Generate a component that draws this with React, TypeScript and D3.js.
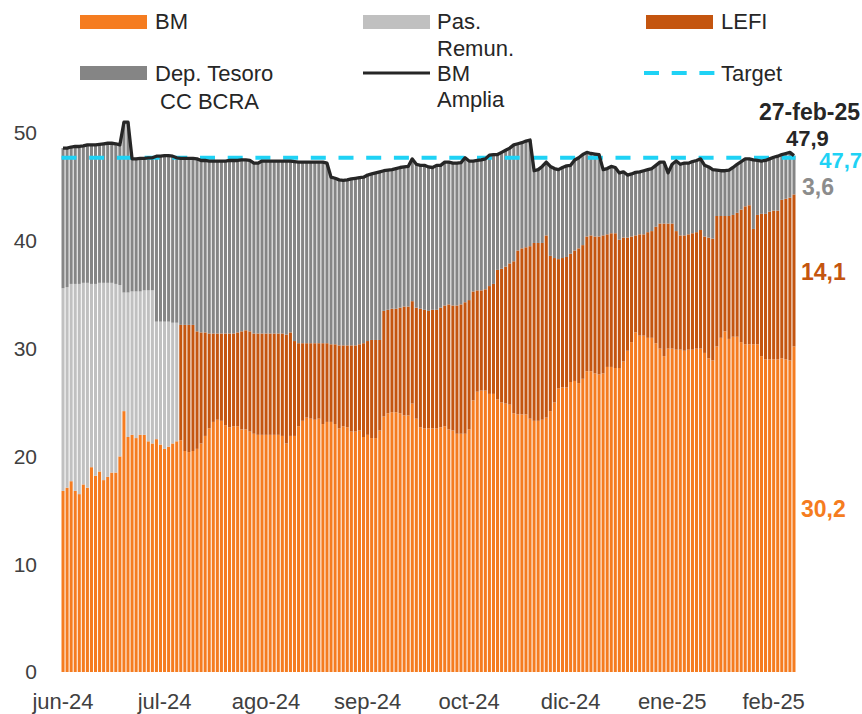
import React from 'react';
import * as d3 from 'd3';

// ---- DATA ----
const tickLabels = ["jun-24", "jul-24", "ago-24", "sep-24", "oct-24", "dic-24", "ene-25", "feb-25"];
const tickEvery = 25;
const lastDate = "27-feb-25";
const target = 47.7;

// Base Monetaria (bars 0..180)
const bm = [
  16.8, 17.1, 17.7, 16.8, 16.5, 17.4, 17.1, 19.0, 18.2, 18.6,
  17.8, 18.1, 18.5, 18.5, 20.0, 24.2, 21.8, 22.0, 21.7, 22.0,
  22.0, 21.4, 21.2, 21.6, 21.1, 20.7, 20.9, 21.2, 21.4, 21.5,
  20.5, 20.4, 20.5, 20.7, 21.2, 21.9, 22.6, 23.2, 23.4, 23.3,
  22.9, 22.7, 22.8, 22.8, 22.5, 22.5, 22.3, 22.1, 22.0, 22.0,
  22.0, 22.0, 22.0, 22.0, 21.9, 21.2, 21.9, 21.9, 22.8, 23.3,
  23.6, 23.5, 23.4, 23.5, 23.0, 23.2, 23.2, 23.0, 22.6, 22.8,
  22.7, 22.3, 22.3, 22.4, 21.8, 22.0, 21.7, 21.7, 22.4, 23.7,
  24.0, 24.1, 24.1, 24.0, 23.8, 23.8, 24.9, 23.5, 22.7, 22.6,
  22.6, 22.6, 22.6, 22.7, 22.8, 22.5, 22.4, 22.1, 22.1, 22.1,
  22.5, 25.2, 26.0, 26.1, 26.1, 25.8, 25.8, 25.3, 25.0, 24.9,
  24.8, 24.0, 23.9, 23.9, 23.9, 23.5, 23.3, 23.3, 23.4, 23.6,
  24.2, 25.0, 26.3, 26.4, 26.4, 26.9, 27.0, 26.8, 27.2, 27.9,
  27.9, 27.7, 27.6, 27.7, 28.3, 28.3, 28.2, 28.2, 28.8, 29.8,
  30.6, 31.5, 31.2, 31.2, 31.0, 31.0, 30.5, 30.0, 29.3, 30.0,
  30.0, 29.9, 29.9, 29.8, 29.9, 29.9, 30.0, 30.0, 29.6, 29.1,
  28.9, 30.2, 31.0, 31.6, 30.9, 31.1, 31.1, 30.6, 30.4, 30.4,
  30.4, 30.4, 29.3, 29.0, 29.0, 29.0, 29.0, 29.1, 29.0, 28.9,
  30.2,
];

// Pasivos remunerados (bars 0..28)
const pasRemun = [
  18.8, 18.6, 18.3, 19.2, 19.5, 18.7, 19.0, 17.0, 17.8, 17.5,
  18.3, 18.0, 17.6, 17.5, 15.9, 11.0, 13.4, 13.3, 13.6, 13.3,
  13.4, 14.0, 14.2, 10.9, 11.4, 11.8, 11.6, 11.2, 11.0,
];

// LEFI (bars 29..180)
const lefiStart = 29;
const lefi = [
  10.7,
  11.7, 11.8, 11.7, 10.9, 10.3, 9.6, 8.8, 8.2, 8.0, 8.1,
  8.5, 8.7, 8.6, 8.7, 9.1, 9.2, 9.3, 9.3, 9.4, 9.4,
  9.4, 9.4, 9.4, 9.4, 9.5, 10.1, 9.6, 8.8, 7.7, 7.2,
  6.9, 7.0, 7.1, 7.0, 7.5, 7.3, 7.2, 7.4, 7.7, 7.5,
  7.6, 8.0, 8.0, 8.0, 8.7, 8.7, 9.1, 9.1, 8.4, 9.8,
  9.6, 9.6, 9.6, 9.8, 10.1, 10.1, 9.5, 10.3, 11.0, 11.0,
  10.9, 11.0, 11.0, 11.1, 11.2, 11.6, 11.6, 11.9, 12.0, 12.2,
  12.0, 10.1, 9.4, 9.3, 9.4, 10.0, 10.2, 12.0, 12.4, 12.7,
  13.1, 14.1, 15.2, 15.4, 15.5, 16.0, 16.5, 16.5, 16.4, 16.9,
  14.4, 13.4, 12.0, 12.0, 12.1, 11.9, 12.1, 12.5, 12.4, 12.5,
  12.6, 12.7, 12.8, 12.8, 12.3, 12.4, 12.5, 11.9, 11.5, 10.5,
  9.8, 9.0, 9.4, 9.4, 9.8, 9.9, 10.8, 11.6, 12.3, 11.6,
  11.6, 11.0, 10.6, 10.7, 10.7, 10.8, 10.8, 11.0, 10.8, 11.2,
  11.3, 12.1, 11.3, 10.7, 11.4, 11.3, 11.5, 12.3, 12.8, 12.9,
  10.7, 12.0, 13.2, 13.5, 13.7, 13.8, 13.8, 14.7, 14.9, 15.1,
  14.1,
];

// BM Amplia (total, bars 0..180)
const bmAmplia = [
  48.6, 48.6, 48.7, 48.75, 48.75, 48.8, 48.9, 48.9, 48.9, 48.95,
  49.0, 49.05, 49.05, 49.0, 48.9, 51.0, 51.0, 47.6, 47.6, 47.65,
  47.65, 47.7, 47.7, 47.85, 47.85, 47.9, 47.9, 47.85, 47.7, 47.65,
  47.65, 47.65, 47.65, 47.6, 47.45, 47.45, 47.4, 47.4, 47.4, 47.4,
  47.4, 47.45, 47.45, 47.45, 47.5, 47.5, 47.45, 47.2, 47.2, 47.4,
  47.4, 47.4, 47.4, 47.4, 47.4, 47.4, 47.4, 47.35, 47.3, 47.3,
  47.3, 47.3, 47.3, 47.3, 47.3, 47.2, 45.9, 45.8, 45.65, 45.6,
  45.65, 45.75, 45.8, 45.85, 45.9, 46.1, 46.2, 46.3, 46.4, 46.5,
  46.55, 46.6, 46.7, 46.8, 46.85, 46.9, 47.6, 47.1, 47.0, 47.0,
  46.85, 46.8, 47.0, 47.0, 47.3, 47.3, 47.2, 47.2, 47.25, 47.7,
  47.4, 47.4, 47.45, 47.5, 47.6, 47.95, 48.0, 48.0, 48.2, 48.4,
  48.6, 48.9, 49.0, 49.1, 49.25, 49.35, 46.5, 46.6, 46.9, 47.3,
  46.9, 46.7, 46.6, 46.8, 46.95, 47.0, 47.5, 47.7, 48.0, 48.2,
  48.1, 48.05, 48.0, 46.6, 46.7, 46.9, 46.8, 46.3, 46.4, 46.1,
  46.2, 46.35, 46.4, 46.5, 46.6, 46.7, 47.0, 47.3, 47.3, 46.3,
  47.1, 47.4, 47.1, 47.2, 47.2, 47.35, 47.45, 47.6, 47.0, 46.85,
  46.6, 46.55, 46.5, 46.5, 46.55, 46.8, 47.1, 47.35, 47.6, 47.6,
  47.5, 47.45, 47.4, 47.45, 47.6, 47.75, 47.85, 48.0, 48.1, 48.2,
  47.9,
];

const yTicks = [0, 10, 20, 30, 40, 50];

// ---- STYLE ----
const C_BM = '#F57C20';
const C_PAS = '#C0C0C0';
const C_LEFI = '#C4550F';
const C_TES = '#858585';
const C_LINE = '#262626';
const C_TARGET = '#1FD2F5';
const FONT = '"Liberation Sans", Arial, sans-serif';

export default function App() {
  const n = bm.length;
  const idx = d3.range(n);
  const rows = idx.map((i) => {
    const p = i < pasRemun.length ? pasRemun[i] : 0;
    const l = i >= lefiStart ? lefi[i - lefiStart] : 0;
    const t = Math.max(0, bmAmplia[i] - bm[i] - p - l);
    return { i, bm: bm[i], pas: p, lefi: l, tesoro: t };
  });
  const keys = ['bm', 'pas', 'lefi', 'tesoro'];
  const colors: Record<string, string> = { bm: C_BM, pas: C_PAS, lefi: C_LEFI, tesoro: C_TES };
  const series = d3.stack<any>().keys(keys)(rows);

  const x = d3.scaleBand<number>().domain(idx).range([61, 796]).paddingInner(0.25).paddingOuter(0.125);
  const y = d3.scaleLinear().domain([0, 50]).range([672, 133]);
  const cx = (i: number) => (x(i) as number) + x.bandwidth() / 2;

  const linePath = d3.line<number>().x((_, i) => cx(i)).y((d) => y(d))(bmAmplia) || '';

  const last = n - 1;
  const lastBm = bm[last];
  const lastLefi = lefi[lefi.length - 1];
  const lastTes = rows[last].tesoro;
  const fmt = (v: number) => d3.format('.1f')(v).replace('.', ',');

  return (
    <svg width={862} height={714} style={{ position: 'absolute', left: 0, top: 0, background: '#fff' }}
      fontFamily={FONT}>
      {/* bars */}
      {series.map((s) => (
        <g key={s.key} fill={colors[s.key]}>
          {s.map((d, i) => {
            const h = y(d[0]) - y(d[1]);
            if (h <= 0) return null;
            return <rect key={i} x={x(i)} y={y(d[1])} width={x.bandwidth()} height={h} />;
          })}
        </g>
      ))}

      {/* target */}
      <line x1={61.5} x2={795.5} y1={y(target)} y2={y(target)} stroke={C_TARGET} strokeWidth={4}
        strokeDasharray="15 12.7" />

      {/* BM amplia line */}
      <path d={linePath} fill="none" stroke={C_LINE} strokeWidth={3.3} strokeLinejoin="round" />

      {/* y axis labels */}
      {yTicks.map((t) => (
        <text key={t} x={37} y={y(t)} dy="0.35em" textAnchor="end" fontSize={21} fill="#404040">{t}</text>
      ))}

      {/* x axis labels */}
      {tickLabels.map((lab, k) => (
        <text key={lab} x={cx(k * tickEvery)} y={709} textAnchor="middle" fontSize={22} fill="#404040">{lab}</text>
      ))}

      {/* end labels */}
      <g fontWeight="bold">
        <text x={860} y={120} textAnchor="end" fontSize={23} fill="#262626">{lastDate}</text>
        <text x={786} y={146} fontSize={22} fill="#262626">{fmt(bmAmplia[last])}</text>
        <text x={862} y={168} textAnchor="end" fontSize={22} fill={C_TARGET}>{fmt(target)}</text>
        <text x={802} y={195} fontSize={23} fill="#8C8C8C">{fmt(lastTes)}</text>
        <text x={801} y={280} fontSize={23} fill={C_LEFI}>{fmt(lastLefi)}</text>
        <text x={801} y={517} fontSize={23} fill={C_BM}>{fmt(lastBm)}</text>
      </g>

      {/* legend */}
      <g fontSize={22} fill="#262626">
        <rect x={80} y={15} width={67} height={14} fill={C_BM} />
        <text x={155} y={29}>BM</text>
        <rect x={363} y={15} width={67} height={14} fill={C_PAS} />
        <text x={437} y={29}>Pas.</text>
        <text x={437} y={56}>Remun.</text>
        <rect x={646} y={15} width={67} height={14} fill={C_LEFI} />
        <text x={721} y={29}>LEFI</text>

        <rect x={80} y={66} width={67} height={14} fill={C_TES} />
        <text x={155} y={81}>Dep. Tesoro</text>
        <text x={160} y={109}>CC BCRA</text>
        <line x1={363} x2={430} y1={73} y2={73} stroke={C_LINE} strokeWidth={3} />
        <text x={437} y={81}>BM</text>
        <text x={437} y={107}>Amplia</text>
        <line x1={644} x2={716} y1={73} y2={73} stroke={C_TARGET} strokeWidth={4} strokeDasharray="15 12.7" />
        <text x={721} y={81}>Target</text>
      </g>
    </svg>
  );
}
